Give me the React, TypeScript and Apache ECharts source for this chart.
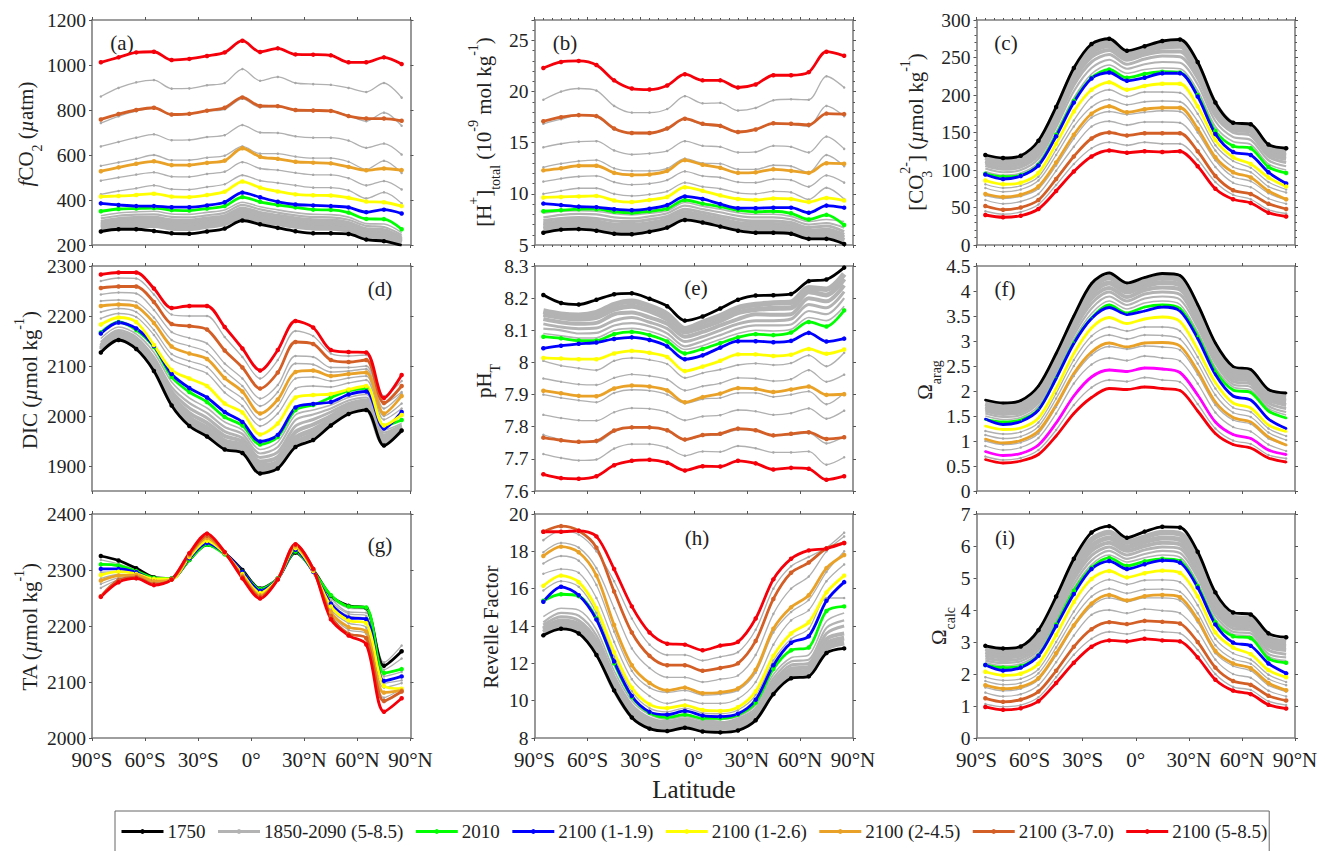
import React, { useEffect, useRef } from 'react';
import * as echarts from 'echarts';

const lats = [-85, -75, -65, -55, -45, -35, -25, -15, -5, 5, 15, 25, 35, 45, 55, 65, 75, 85];
const latTicks = [-90, -60, -30, 0, 30, 60, 90];
const latTickLabels = ['90°S', '60°S', '30°S', '0°', '30°N', '60°N', '90°N'];
const dTicks = [1900, 2000, 2100, 2200, 2300];

const grayName = '1850-2090 (5-8.5)';
const keyNames = ['1750', '2010', '2100 (1-1.9)', '2100 (1-2.6)', '2100 (2-4.5)', '2100 (3-7.0)', '2100 (5-8.5)'];
const keyColors = ['#000000', '#00ff00', '#0000ff', '#ffff00', '#e9a227', '#d35f27', '#f5000a'];
const legendNames = ['1750', grayName, '2010', '2100 (1-1.9)', '2100 (1-2.6)', '2100 (2-4.5)', '2100 (3-7.0)', '2100 (5-8.5)'];

// key lines run in keyNames order
const aKey = [
  [260, 270, 270, 262, 252, 250, 260, 273, 309, 292, 276, 261, 252, 252, 249, 224, 217, 198],
  [350, 360, 362, 364, 355, 353, 362, 373, 413, 392, 378, 367, 357, 356, 344, 316, 315, 270],
  [385, 378, 373, 373, 368, 368, 376, 390, 433, 412, 392, 380, 376, 373, 367, 346, 357, 340],
  [415, 418, 422, 428, 415, 413, 422, 437, 482, 455, 438, 425, 421, 420, 410, 393, 390, 373],
  [528, 545, 561, 572, 555, 555, 565, 575, 630, 592, 583, 570, 566, 563, 547, 532, 540, 533],
  [758, 782, 800, 810, 780, 783, 797, 810, 856, 818, 817, 800, 798, 796, 773, 762, 762, 752],
  [1012, 1034, 1056, 1059, 1022, 1027, 1040, 1056, 1108, 1058, 1074, 1047, 1046, 1043, 1012, 1012, 1034, 1004],
];
const aGray = [
  [860, 898, 923, 933, 895, 896, 910, 920, 982, 930, 947, 920, 915, 912, 898, 880, 920, 855],
  [742, 772, 795, 808, 778, 782, 795, 803, 850, 812, 815, 797, 795, 795, 775, 750, 788, 730],
  [638, 658, 677, 692, 666, 667, 680, 688, 733, 700, 698, 683, 677, 677, 664, 632, 651, 602],
  [552, 567, 583, 600, 577, 577, 588, 597, 638, 606, 606, 593, 586, 586, 570, 536, 574, 520],
  [486, 500, 513, 523, 504, 503, 516, 526, 568, 540, 533, 521, 512, 512, 497, 465, 484, 447],
  [425, 440, 452, 465, 448, 446, 458, 470, 510, 486, 476, 465, 455, 455, 443, 407, 434, 385],
];
const aBand = [
  [330, 342, 347, 350, 338, 336, 345, 356, 390, 370, 356, 344, 336, 335, 324, 295, 293, 255],
  [318, 330, 335, 336, 325, 323, 332, 343, 378, 358, 344, 332, 324, 323, 312, 285, 280, 245],
  [305, 318, 322, 323, 312, 310, 320, 330, 365, 345, 332, 320, 312, 311, 300, 272, 268, 235],
  [295, 307, 311, 312, 300, 298, 308, 318, 352, 334, 320, 308, 300, 299, 288, 260, 256, 225],
  [285, 296, 300, 300, 288, 286, 296, 306, 340, 322, 308, 296, 288, 287, 276, 250, 244, 217],
  [275, 285, 288, 288, 276, 274, 284, 296, 328, 310, 296, 284, 276, 275, 266, 240, 232, 210],
];

const bKey = [
  [6.2, 6.5, 6.55, 6.4, 6.1, 6.05, 6.3, 6.7, 7.45, 7.2, 6.8, 6.4, 6.2, 6.2, 6.1, 5.6, 5.6, 5.1],
  [8.3, 8.4, 8.5, 8.5, 8.25, 8.15, 8.3, 8.55, 9.4, 9.05, 8.75, 8.4, 8.25, 8.3, 8.1, 7.5, 7.95, 6.95],
  [9.05, 8.9, 8.75, 8.7, 8.5, 8.4, 8.55, 8.9, 9.75, 9.5, 9.0, 8.6, 8.6, 8.65, 8.65, 8.15, 8.85, 8.65],
  [9.65, 9.7, 9.75, 9.8, 9.35, 9.2, 9.4, 9.7, 10.65, 10.3, 9.85, 9.5, 9.4, 9.55, 9.5, 9.2, 9.6, 9.35],
  [12.3, 12.5, 12.75, 12.75, 12.05, 11.85, 11.9, 12.25, 13.3, 12.85, 12.55, 12.05, 12.1, 12.4, 12.25, 12.05, 13.0, 12.95],
  [17.1, 17.5, 17.7, 17.6, 16.4, 15.95, 15.95, 16.4, 17.35, 16.85, 16.65, 16.05, 16.3, 16.9, 16.85, 16.75, 17.85, 17.8],
  [22.3, 22.9, 23.0, 22.6, 21.1, 20.3, 20.2, 20.6, 21.7, 21.1, 21.1, 20.4, 20.7, 21.6, 21.6, 21.9, 23.9, 23.5],
];
const bGray = [
  [19.2, 20.0, 20.3, 20.1, 18.6, 17.95, 17.95, 18.3, 19.55, 18.85, 18.9, 18.15, 18.4, 19.15, 19.25, 19.2, 21.5, 20.4],
  [16.85, 17.3, 17.7, 17.55, 16.3, 15.95, 15.9, 16.3, 17.3, 16.75, 16.6, 16.0, 16.25, 16.85, 16.8, 16.6, 18.6, 17.6],
  [14.55, 14.9, 15.1, 15.15, 14.25, 13.85, 13.95, 14.2, 15.15, 14.7, 14.6, 14.05, 14.1, 14.7, 14.6, 14.05, 15.6, 14.4],
  [12.6, 12.95, 13.2, 13.3, 12.5, 12.25, 12.25, 12.5, 13.45, 13.0, 12.95, 12.4, 12.4, 12.8, 12.7, 12.1, 13.8, 12.7],
  [11.2, 11.5, 11.7, 11.75, 11.15, 10.9, 11.0, 11.35, 12.2, 11.75, 11.6, 11.15, 11.1, 11.45, 11.35, 10.7, 11.8, 11.1],
  [10.0, 10.3, 10.55, 10.55, 10.0, 9.8, 9.95, 10.25, 11.1, 10.7, 10.5, 10.1, 10.0, 10.25, 10.15, 9.45, 10.6, 9.5],
];
const bBand = [
  [8.1, 8.3, 8.35, 8.3, 8.05, 7.95, 8.1, 8.35, 9.15, 8.8, 8.5, 8.15, 8.0, 8.0, 7.8, 7.3, 7.5, 7.3],
  [7.7, 7.95, 8.05, 8.0, 7.7, 7.6, 7.8, 8.1, 8.85, 8.5, 8.2, 7.85, 7.7, 7.7, 7.5, 7.0, 7.15, 6.7],
  [7.4, 7.6, 7.7, 7.6, 7.35, 7.3, 7.5, 7.8, 8.5, 8.2, 7.85, 7.5, 7.35, 7.35, 7.2, 6.7, 6.85, 6.3],
  [7.1, 7.3, 7.4, 7.3, 7.0, 6.95, 7.15, 7.5, 8.2, 7.9, 7.55, 7.15, 7.05, 7.05, 6.9, 6.4, 6.5, 6.0],
  [6.85, 7.05, 7.1, 7.0, 6.75, 6.7, 6.9, 7.2, 7.95, 7.6, 7.3, 6.9, 6.75, 6.75, 6.6, 6.1, 6.2, 5.7],
  [6.55, 6.8, 6.85, 6.75, 6.45, 6.4, 6.6, 6.95, 7.7, 7.4, 7.05, 6.65, 6.5, 6.5, 6.35, 5.85, 5.9, 5.4],
];

const cKey = [
  [120, 116, 119, 139, 184, 236, 268, 275, 259, 265, 272, 274, 244, 190, 163, 161, 134, 129],
  [95, 91, 93, 107, 147, 192, 223, 234, 223, 228, 231, 230, 200, 152, 132, 129, 104, 96],
  [94, 88, 92, 106, 145, 190, 222, 230, 219, 223, 229, 229, 198, 148, 124, 120, 97, 82],
  [86, 81, 83, 96, 135, 178, 207, 217, 207, 212, 215, 215, 185, 140, 117, 108, 90, 78],
  [68, 64, 67, 78, 110, 147, 175, 185, 177, 181, 183, 183, 155, 117, 97, 90, 72, 61],
  [52, 47, 50, 60, 88, 118, 142, 150, 146, 149, 149, 149, 125, 92, 73, 68, 55, 48],
  [40, 37, 39, 48, 72, 98, 118, 126, 123, 125, 124, 125, 105, 75, 61, 56, 43, 38],
];
const cGray = [
  [45, 41, 44, 54, 80, 108, 129, 137, 133, 137, 135, 135, 114, 84, 67, 61, 47, 42],
  [60, 55, 58, 68, 99, 131, 158, 165, 160, 164, 164, 163, 138, 104, 83, 77, 62, 55],
  [66, 62, 65, 75, 106, 142, 170, 178, 174, 177, 179, 178, 150, 113, 91, 85, 69, 60],
  [76, 71, 74, 86, 120, 158, 184, 194, 187, 191, 192, 191, 165, 126, 104, 97, 78, 70],
  [81, 76, 79, 91, 127, 166, 197, 207, 198, 204, 204, 203, 175, 133, 112, 103, 84, 74],
];
const cBand = [
  [98, 93, 96, 110, 150, 196, 228, 240, 229, 234, 236, 235, 206, 158, 138, 134, 108, 100],
  [102, 97, 100, 115, 157, 205, 236, 247, 235, 241, 244, 243, 214, 165, 144, 140, 113, 105],
  [106, 101, 104, 120, 163, 213, 244, 254, 241, 248, 252, 251, 222, 172, 150, 146, 118, 110],
  [110, 105, 108, 125, 169, 220, 251, 260, 247, 254, 258, 258, 228, 178, 154, 151, 122, 115],
  [113, 108, 112, 130, 175, 226, 257, 266, 252, 259, 264, 265, 234, 183, 158, 155, 126, 119],
  [117, 112, 115, 134, 180, 231, 263, 271, 256, 262, 268, 270, 239, 187, 161, 158, 130, 124],
];

const dKey = [
  [2127, 2152, 2134, 2090, 2021, 1980, 1959, 1933, 1926, 1885, 1895, 1938, 1952, 1981, 2004, 2012, 1941, 1971],
  [2167, 2188, 2172, 2138, 2078, 2048, 2028, 1998, 1981, 1943, 1958, 2012, 2022, 2037, 2050, 2055, 1980, 1992],
  [2165, 2187, 2175, 2140, 2084, 2056, 2037, 2008, 1988, 1949, 1962, 2017, 2024, 2028, 2043, 2049, 1975, 2008],
  [2183, 2197, 2188, 2142, 2092, 2075, 2060, 2025, 2007, 1963, 1985, 2037, 2042, 2044, 2053, 2060, 1981, 2002],
  [2220, 2223, 2219, 2186, 2139, 2125, 2114, 2076, 2049, 2005, 2033, 2088, 2091, 2080, 2084, 2087, 2005, 2040],
  [2256, 2259, 2259, 2228, 2184, 2180, 2173, 2131, 2097, 2055, 2087, 2148, 2144, 2112, 2108, 2112, 2026, 2060],
  [2283, 2287, 2287, 2255, 2216, 2220, 2220, 2178, 2135, 2091, 2132, 2190, 2177, 2132, 2128, 2127, 2036, 2082],
];
const dGray = [
  [2270, 2276, 2275, 2243, 2203, 2200, 2200, 2158, 2118, 2075, 2112, 2170, 2160, 2125, 2120, 2122, 2040, 2070],
  [2243, 2247, 2245, 2212, 2168, 2156, 2145, 2105, 2075, 2035, 2062, 2120, 2118, 2097, 2097, 2100, 2025, 2048],
  [2230, 2232, 2228, 2197, 2152, 2140, 2128, 2090, 2060, 2020, 2048, 2105, 2103, 2088, 2090, 2094, 2015, 2045],
  [2208, 2215, 2208, 2172, 2124, 2110, 2098, 2060, 2035, 1993, 2020, 2075, 2078, 2070, 2076, 2080, 2000, 2025],
  [2195, 2205, 2198, 2162, 2113, 2098, 2085, 2047, 2020, 1980, 2005, 2055, 2060, 2058, 2066, 2072, 1993, 2015],
];
const dBand = [
  [2155, 2178, 2164, 2127, 2068, 2036, 2016, 1988, 1972, 1933, 1948, 2002, 2012, 2022, 2037, 2043, 1972, 1985],
  [2148, 2172, 2158, 2118, 2058, 2026, 2006, 1978, 1964, 1925, 1938, 1992, 2003, 2015, 2031, 2037, 1967, 1982],
  [2143, 2168, 2153, 2112, 2050, 2016, 1996, 1969, 1956, 1917, 1928, 1980, 1993, 2008, 2025, 2032, 1962, 1980],
  [2140, 2164, 2148, 2106, 2042, 2006, 1986, 1960, 1949, 1909, 1918, 1968, 1983, 2000, 2020, 2027, 1957, 1978],
  [2136, 2160, 2143, 2100, 2034, 1996, 1976, 1950, 1941, 1901, 1908, 1956, 1972, 1992, 2014, 2021, 1951, 1975],
  [2132, 2156, 2138, 2095, 2027, 1988, 1967, 1941, 1933, 1893, 1901, 1946, 1962, 1986, 2009, 2016, 1946, 1973],
];

const eKey = [
  [8.21, 8.185, 8.18, 8.195, 8.212, 8.215, 8.198, 8.175, 8.13, 8.143, 8.168, 8.195, 8.208, 8.209, 8.213, 8.253, 8.258, 8.295],
  [8.08, 8.075, 8.068, 8.068, 8.088, 8.095, 8.085, 8.065, 8.028, 8.042, 8.06, 8.078, 8.088, 8.085, 8.093, 8.126, 8.112, 8.162],
  [8.044, 8.052, 8.058, 8.062, 8.073, 8.078, 8.07, 8.05, 8.01, 8.022, 8.046, 8.066, 8.066, 8.063, 8.067, 8.092, 8.065, 8.074],
  [8.014, 8.012, 8.01, 8.01, 8.028, 8.036, 8.03, 8.017, 7.973, 7.987, 8.005, 8.025, 8.025, 8.02, 8.024, 8.042, 8.027, 8.04],
  [7.912, 7.904, 7.896, 7.895, 7.919, 7.928, 7.925, 7.913, 7.876, 7.892, 7.903, 7.92, 7.918, 7.908, 7.916, 7.925, 7.899, 7.901],
  [7.766, 7.758, 7.753, 7.756, 7.788, 7.798, 7.798, 7.789, 7.76, 7.774, 7.778, 7.794, 7.789, 7.773, 7.778, 7.783, 7.762, 7.767],
  [7.652, 7.64, 7.638, 7.646, 7.68, 7.694, 7.697, 7.688, 7.664, 7.677, 7.676, 7.694, 7.686, 7.667, 7.672, 7.669, 7.635, 7.646],
];
const eGray = [
  [7.715, 7.703, 7.695, 7.698, 7.732, 7.746, 7.746, 7.735, 7.71, 7.723, 7.722, 7.74, 7.733, 7.72, 7.72, 7.723, 7.682, 7.705],
  [7.775, 7.76, 7.752, 7.752, 7.785, 7.797, 7.797, 7.787, 7.758, 7.772, 7.775, 7.79, 7.788, 7.772, 7.775, 7.78, 7.748, 7.77],
  [7.837, 7.827, 7.82, 7.819, 7.845, 7.858, 7.856, 7.845, 7.82, 7.832, 7.836, 7.852, 7.848, 7.837, 7.842, 7.857, 7.825, 7.85],
  [7.9, 7.89, 7.882, 7.876, 7.905, 7.915, 7.912, 7.9, 7.873, 7.886, 7.89, 7.905, 7.905, 7.893, 7.9, 7.91, 7.87, 7.905],
  [7.95, 7.94, 7.932, 7.93, 7.952, 7.963, 7.958, 7.947, 7.913, 7.926, 7.935, 7.952, 7.95, 7.942, 7.948, 7.976, 7.94, 7.962],
  [8.005, 7.99, 7.982, 7.976, 8.005, 8.014, 8.008, 7.995, 7.952, 7.967, 7.978, 7.992, 7.997, 7.992, 7.998, 8.022, 7.988, 8.03],
];
const eBand = [
  [8.09, 8.083, 8.076, 8.077, 8.1, 8.106, 8.097, 8.077, 8.04, 8.052, 8.072, 8.09, 8.1, 8.098, 8.103, 8.14, 8.13, 8.175],
  [8.105, 8.1, 8.09, 8.092, 8.115, 8.122, 8.112, 8.09, 8.05, 8.066, 8.085, 8.105, 8.115, 8.115, 8.118, 8.16, 8.15, 8.2],
  [8.12, 8.11, 8.105, 8.107, 8.13, 8.14, 8.125, 8.105, 8.065, 8.08, 8.1, 8.12, 8.13, 8.13, 8.135, 8.18, 8.17, 8.22],
  [8.135, 8.125, 8.12, 8.123, 8.15, 8.155, 8.14, 8.12, 8.08, 8.095, 8.115, 8.135, 8.15, 8.148, 8.15, 8.2, 8.19, 8.24],
  [8.15, 8.14, 8.135, 8.14, 8.165, 8.175, 8.16, 8.135, 8.095, 8.11, 8.13, 8.155, 8.165, 8.168, 8.17, 8.22, 8.21, 8.26],
  [8.16, 8.15, 8.147, 8.155, 8.18, 8.19, 8.175, 8.15, 8.105, 8.125, 8.145, 8.17, 8.18, 8.185, 8.187, 8.232, 8.228, 8.275],
];

// panel f has magenta where the others have the 3-7.0 line
const fKey = [
  [1.82, 1.76, 1.81, 2.1, 2.75, 3.5, 4.15, 4.36, 4.16, 4.27, 4.35, 4.31, 3.73, 2.96, 2.49, 2.43, 2.03, 1.96],
  [1.43, 1.38, 1.42, 1.63, 2.26, 2.97, 3.46, 3.72, 3.56, 3.68, 3.72, 3.65, 3.1, 2.4, 2.02, 1.97, 1.6, 1.46],
  [1.44, 1.33, 1.39, 1.62, 2.25, 2.95, 3.45, 3.67, 3.53, 3.6, 3.68, 3.6, 3.05, 2.33, 1.9, 1.82, 1.44, 1.25],
  [1.3, 1.23, 1.26, 1.46, 2.05, 2.75, 3.26, 3.47, 3.35, 3.44, 3.48, 3.39, 2.83, 2.17, 1.76, 1.66, 1.32, 1.19],
  [1.04, 0.96, 1.01, 1.2, 1.72, 2.35, 2.78, 2.96, 2.88, 2.96, 2.97, 2.9, 2.4, 1.78, 1.47, 1.38, 1.08, 0.92],
  [0.79, 0.71, 0.75, 0.92, 1.36, 1.9, 2.28, 2.42, 2.39, 2.46, 2.44, 2.37, 1.92, 1.38, 1.13, 1.05, 0.82, 0.73],
  [0.63, 0.56, 0.6, 0.73, 1.1, 1.55, 1.87, 2.05, 2.03, 2.08, 2.05, 2.01, 1.6, 1.15, 0.93, 0.86, 0.66, 0.58],
];
const fGray = [
  [0.69, 0.62, 0.66, 0.82, 1.22, 1.72, 2.07, 2.22, 2.19, 2.27, 2.22, 2.18, 1.74, 1.25, 1.01, 0.94, 0.72, 0.65],
  [0.9, 0.82, 0.87, 1.06, 1.55, 2.15, 2.53, 2.66, 2.61, 2.7, 2.66, 2.6, 2.15, 1.57, 1.28, 1.19, 0.93, 0.8],
  [1.0, 0.93, 0.97, 1.15, 1.68, 2.3, 2.72, 2.89, 2.84, 2.9, 2.88, 2.82, 2.33, 1.72, 1.42, 1.34, 1.05, 0.92],
  [1.12, 1.05, 1.09, 1.29, 1.85, 2.5, 2.97, 3.12, 3.04, 3.12, 3.11, 3.04, 2.55, 1.92, 1.57, 1.48, 1.17, 1.02],
  [1.2, 1.14, 1.18, 1.37, 1.95, 2.62, 3.1, 3.28, 3.2, 3.28, 3.28, 3.2, 2.68, 2.05, 1.67, 1.58, 1.25, 1.1],
];
const fBand = [
  [1.5, 1.43, 1.47, 1.7, 2.32, 3.03, 3.55, 3.8, 3.64, 3.76, 3.8, 3.73, 3.18, 2.47, 2.08, 2.02, 1.65, 1.52],
  [1.55, 1.48, 1.52, 1.76, 2.38, 3.11, 3.65, 3.89, 3.72, 3.85, 3.89, 3.83, 3.27, 2.55, 2.13, 2.08, 1.7, 1.58],
  [1.6, 1.53, 1.57, 1.82, 2.45, 3.2, 3.75, 3.98, 3.8, 3.94, 3.98, 3.93, 3.35, 2.62, 2.19, 2.14, 1.76, 1.65],
  [1.65, 1.58, 1.63, 1.88, 2.52, 3.28, 3.85, 4.06, 3.88, 4.02, 4.07, 4.03, 3.45, 2.7, 2.26, 2.2, 1.83, 1.72],
  [1.7, 1.63, 1.68, 1.95, 2.6, 3.36, 3.95, 4.16, 3.98, 4.1, 4.17, 4.12, 3.55, 2.79, 2.33, 2.27, 1.89, 1.8],
  [1.76, 1.7, 1.75, 2.02, 2.68, 3.43, 4.05, 4.27, 4.07, 4.19, 4.27, 4.22, 3.65, 2.88, 2.41, 2.35, 1.96, 1.88],
];

const gKey = [
  [2325, 2317, 2303, 2287, 2285, 2318, 2345, 2330, 2300, 2267, 2285, 2331, 2300, 2254, 2236, 2232, 2129, 2155],
  [2310, 2308, 2298, 2286, 2285, 2318, 2345, 2328, 2297, 2266, 2285, 2333, 2298, 2255, 2235, 2233, 2116, 2123],
  [2302, 2302, 2296, 2283, 2284, 2321, 2348, 2330, 2297, 2263, 2284, 2336, 2297, 2240, 2215, 2212, 2102, 2110],
  [2291, 2297, 2293, 2284, 2284, 2323, 2352, 2330, 2293, 2259, 2284, 2339, 2298, 2235, 2210, 2205, 2093, 2088],
  [2281, 2290, 2291, 2280, 2283, 2326, 2357, 2331, 2290, 2255, 2284, 2342, 2300, 2225, 2198, 2190, 2081, 2085],
  [2253, 2282, 2287, 2275, 2283, 2328, 2361, 2332, 2287, 2252, 2284, 2345, 2302, 2218, 2186, 2178, 2066, 2083],
  [2252, 2278, 2285, 2273, 2283, 2330, 2365, 2332, 2285, 2249, 2283, 2346, 2302, 2212, 2183, 2167, 2047, 2071],
];
const gGray = [
  [2318, 2311, 2300, 2286, 2285, 2316, 2346, 2329, 2298, 2266, 2285, 2332, 2299, 2252, 2232, 2230, 2135, 2165],
  [2312, 2306, 2298, 2286, 2285, 2317, 2345, 2329, 2298, 2266, 2285, 2333, 2298, 2250, 2225, 2224, 2122, 2142],
  [2296, 2297, 2294, 2285, 2284, 2320, 2348, 2330, 2296, 2264, 2284, 2335, 2298, 2245, 2222, 2218, 2110, 2118],
  [2285, 2292, 2291, 2281, 2284, 2325, 2355, 2331, 2291, 2257, 2284, 2341, 2299, 2240, 2218, 2212, 2098, 2103],
  [2275, 2286, 2288, 2278, 2283, 2327, 2358, 2331, 2289, 2254, 2284, 2343, 2300, 2230, 2205, 2197, 2090, 2098],
  [2268, 2283, 2286, 2277, 2283, 2328, 2360, 2331, 2288, 2253, 2284, 2344, 2301, 2224, 2193, 2186, 2072, 2088],
];
const gBand: number[][] = [];

const hKey = [
  [13.5, 13.85, 13.6, 12.45, 10.55, 9.1, 8.5, 8.37, 8.55, 8.35, 8.3, 8.4, 8.95, 10.35, 11.2, 11.3, 12.55, 12.8],
  [15.35, 15.7, 15.6, 14.4, 12.0, 10.2, 9.35, 9.1, 9.25, 9.05, 9.05, 9.25, 9.9, 11.7, 12.7, 12.85, 14.8, 15.05],
  [15.3, 16.1, 15.65, 14.35, 12.1, 10.25, 9.4, 9.25, 9.45, 9.2, 9.15, 9.3, 10.05, 11.9, 13.1, 13.45, 15.35, 16.35],
  [16.15, 16.7, 16.35, 14.95, 12.6, 10.7, 9.8, 9.6, 9.75, 9.5, 9.45, 9.65, 10.5, 12.4, 13.6, 14.2, 15.8, 16.7],
  [17.75, 18.25, 17.95, 16.7, 14.05, 11.9, 10.95, 10.55, 10.7, 10.4, 10.45, 10.65, 11.65, 13.85, 15.0, 15.65, 17.1, 17.8],
  [19.05, 19.35, 19.1, 18.2, 15.85, 13.65, 12.4, 11.9, 11.9, 11.6, 11.75, 12.0, 13.2, 15.45, 16.85, 17.4, 18.15, 18.45],
  [19.05, 19.05, 19.1, 18.8, 17.05, 15.05, 13.65, 13.05, 13.0, 12.7, 12.95, 13.15, 14.4, 16.5, 17.6, 18.05, 18.15, 18.45],
];
const hGray = [
  [18.6, 19.1, 18.9, 18.0, 16.4, 14.4, 13.0, 12.45, 12.45, 12.15, 12.35, 12.6, 13.8, 16.0, 17.2, 17.7, 18.2, 19.0],
  [17.95, 18.45, 18.2, 17.1, 14.95, 12.8, 11.75, 11.25, 11.25, 11.0, 11.15, 11.35, 12.45, 14.65, 16.0, 16.65, 18.0, 18.8],
  [17.35, 17.75, 17.5, 16.2, 13.7, 11.6, 10.7, 10.45, 10.55, 10.3, 10.35, 10.55, 11.5, 13.65, 14.75, 15.4, 16.9, 18.0],
  [16.8, 17.05, 16.85, 15.5, 13.15, 11.15, 10.25, 9.85, 10.05, 9.85, 9.85, 10.1, 11.0, 13.0, 14.3, 14.85, 16.4, 17.3],
  [15.9, 16.4, 16.1, 14.7, 12.35, 10.5, 9.6, 9.4, 9.6, 9.35, 9.3, 9.5, 10.3, 12.15, 13.3, 13.85, 15.5, 15.5],
];
const hBand = [
  [14.5, 14.95, 14.85, 13.8, 11.6, 10.0, 9.25, 9.0, 9.15, 8.95, 8.98, 9.15, 9.75, 11.4, 12.3, 12.45, 14.25, 14.7],
  [14.2, 14.7, 14.55, 13.5, 11.35, 9.8, 9.1, 8.9, 9.05, 8.85, 8.85, 9.05, 9.6, 11.2, 12.1, 12.2, 13.9, 14.3],
  [14.05, 14.5, 14.3, 13.25, 11.15, 9.65, 9.0, 8.8, 8.95, 8.75, 8.75, 8.95, 9.45, 11.0, 11.9, 12.0, 13.6, 14.0],
  [13.9, 14.3, 14.1, 13.05, 10.95, 9.5, 8.85, 8.7, 8.85, 8.65, 8.65, 8.8, 9.3, 10.8, 11.7, 11.8, 13.3, 13.6],
  [13.8, 14.15, 13.95, 12.85, 10.8, 9.35, 8.75, 8.6, 8.75, 8.55, 8.55, 8.65, 9.2, 10.65, 11.5, 11.6, 13.05, 13.35],
  [13.65, 14.0, 13.75, 12.65, 10.65, 9.2, 8.6, 8.47, 8.65, 8.45, 8.42, 8.5, 9.05, 10.5, 11.35, 11.45, 12.8, 13.1],
];

const iKey = [
  [2.88, 2.8, 2.86, 3.37, 4.42, 5.6, 6.42, 6.62, 6.26, 6.45, 6.6, 6.58, 5.82, 4.55, 3.92, 3.86, 3.27, 3.15],
  [2.28, 2.2, 2.24, 2.58, 3.55, 4.6, 5.32, 5.63, 5.38, 5.52, 5.6, 5.53, 4.75, 3.62, 3.18, 3.12, 2.48, 2.35],
  [2.28, 2.11, 2.2, 2.57, 3.5, 4.5, 5.28, 5.53, 5.28, 5.43, 5.55, 5.48, 4.7, 3.55, 2.98, 2.88, 2.33, 2.02],
  [2.07, 1.96, 2.01, 2.32, 3.22, 4.25, 4.97, 5.22, 5.02, 5.15, 5.23, 5.16, 4.43, 3.3, 2.83, 2.62, 2.12, 1.9],
  [1.65, 1.54, 1.6, 1.87, 2.65, 3.52, 4.2, 4.47, 4.3, 4.43, 4.47, 4.4, 3.7, 2.72, 2.33, 2.18, 1.72, 1.49],
  [1.24, 1.13, 1.2, 1.45, 2.1, 2.85, 3.4, 3.62, 3.56, 3.66, 3.63, 3.58, 3.0, 2.2, 1.78, 1.66, 1.32, 1.17],
  [0.97, 0.88, 0.93, 1.15, 1.72, 2.35, 2.85, 3.05, 3.02, 3.1, 3.05, 3.02, 2.52, 1.82, 1.48, 1.37, 1.04, 0.92],
];
const iGray = [
  [1.06, 0.98, 1.03, 1.27, 1.9, 2.6, 3.1, 3.32, 3.25, 3.37, 3.32, 3.27, 2.75, 2.0, 1.6, 1.5, 1.15, 1.03],
  [1.42, 1.3, 1.37, 1.65, 2.37, 3.2, 3.85, 4.0, 3.9, 4.03, 3.98, 3.9, 3.33, 2.45, 2.0, 1.88, 1.48, 1.3],
  [1.58, 1.47, 1.54, 1.82, 2.58, 3.47, 4.12, 4.38, 4.26, 4.38, 4.38, 4.3, 3.62, 2.65, 2.25, 2.1, 1.65, 1.45],
  [1.78, 1.67, 1.72, 2.02, 2.83, 3.75, 4.42, 4.67, 4.52, 4.64, 4.65, 4.57, 3.9, 2.9, 2.47, 2.32, 1.85, 1.65],
  [1.9, 1.8, 1.85, 2.15, 3.0, 3.95, 4.68, 4.95, 4.8, 4.93, 4.94, 4.87, 4.15, 3.1, 2.65, 2.45, 1.98, 1.75],
];
const iBand = [
  [2.35, 2.26, 2.32, 2.66, 3.62, 4.68, 5.42, 5.72, 5.5, 5.63, 5.72, 5.65, 4.85, 3.7, 3.24, 3.18, 2.55, 2.42],
  [2.42, 2.34, 2.4, 2.75, 3.72, 4.8, 5.55, 5.85, 5.6, 5.75, 5.85, 5.78, 5.0, 3.82, 3.32, 3.27, 2.63, 2.52],
  [2.5, 2.42, 2.48, 2.85, 3.85, 4.95, 5.7, 5.97, 5.72, 5.88, 5.97, 5.92, 5.12, 3.95, 3.42, 3.37, 2.75, 2.62],
  [2.6, 2.52, 2.58, 2.97, 3.97, 5.1, 5.85, 6.1, 5.85, 6.0, 6.1, 6.05, 5.27, 4.08, 3.52, 3.47, 2.87, 2.75],
  [2.7, 2.62, 2.68, 3.08, 4.1, 5.25, 6.0, 6.25, 5.97, 6.13, 6.25, 6.2, 5.42, 4.2, 3.63, 3.57, 2.98, 2.87],
  [2.8, 2.72, 2.78, 3.2, 4.25, 5.42, 6.2, 6.42, 6.12, 6.28, 6.42, 6.38, 5.62, 4.37, 3.77, 3.72, 3.12, 3.0],
];

const FONT = '"Liberation Serif", "Times New Roman", serif';
const INK = '#222222';
const BOX = '#7f7f7f';
const colX = [92, 534.5, 976.5];
const rowY = [20, 266, 514];
const GW = 318.5;
const GH = 225;
// band lines go from the thin stripes near 2010 to the solid part near 1750
const bandWidths = [1.6, 2.2, 3, 4, 5, 5.5];

const panels: any[] = [
  { letter: '(a)', key: aKey, gray: aGray, band: aBand, min: 200, max: 1200, step: 200, lx: 122, ly: 43, tx: 26, ty: 134, title: '{i|f}{m|CO}{sub|2}{m| (}{i|µ}{m|atm)}' },
  { letter: '(b)', key: bKey, gray: bGray, band: bBand, min: 5, max: 27, step: 5, minor: true, hideTop: true, lx: 565, ly: 43, tx: 484, ty: 132, title: '{m|[H}{sup|+}{m|]}{sub|total}{m| (10}{sup|-9}{m| mol kg}{sup|-1}{m|)}' },
  { letter: '(c)', key: cKey, gray: cGray, band: cBand, min: 0, max: 300, step: 50, minor: true, lx: 1006, ly: 43, tx: 916, ty: 132, title: '{m|[CO}{sub3|3}{sup2|2}{sup|-}{m|] (}{i|µ}{m|mol kg}{sup|-1}{m|)}' },
  { letter: '(d)', key: dKey, gray: dGray, band: dBand, min: 1850, max: 2300, ticks: dTicks, lx: 380, ly: 289, tx: 30, ty: 380, title: '{m|DIC (}{i|µ}{m|mol kg}{sup|-1}{m|)}' },
  { letter: '(e)', key: eKey, gray: eGray, band: eBand, min: 7.6, max: 8.3, step: 0.1, lx: 696, ly: 288, tx: 484, ty: 381, title: '{m|pH}{sub|T}' },
  { letter: '(f)', key: fKey, gray: fGray, band: fBand, min: 0, max: 4.5, step: 0.5, lx: 1005, ly: 289, tx: 925, ty: 380, title: '{m|Ω}{sub|arag}', magenta: true },
  { letter: '(g)', key: gKey, gray: gGray, band: gBand, min: 2000, max: 2400, step: 100, lx: 380, ly: 545, tx: 30, ty: 627, title: '{m|TA (}{i|µ}{m|mol kg}{sup|-1}{m|)}' },
  { letter: '(h)', key: hKey, gray: hGray, band: hBand, min: 8, max: 20, step: 2, lx: 697, ly: 538, tx: 491, ty: 627, title: '{m|Revelle Factor}' },
  { letter: '(i)', key: iKey, gray: iGray, band: iBand, min: 0, max: 7, step: 1, lx: 1005, ly: 538, tx: 939, ty: 626, title: '{m|Ω}{sub|calc}' },
];

const titleRich = {
  m: { fontSize: 21, lineHeight: 36, fontFamily: FONT, color: INK },
  i: { fontSize: 21, lineHeight: 36, fontFamily: FONT, fontStyle: 'italic', color: INK },
  sup: { fontSize: 14, lineHeight: 24, fontFamily: FONT, color: INK, verticalAlign: 'top' },
  sub: { fontSize: 14, lineHeight: 24, fontFamily: FONT, color: INK, verticalAlign: 'bottom' },
  sub3: { fontSize: 14, lineHeight: 24, width: 1, fontFamily: FONT, color: INK, verticalAlign: 'bottom' },
  sup2: { fontSize: 14, lineHeight: 30, fontFamily: FONT, color: INK, verticalAlign: 'top' },
};

const buildOption = () => {
  const grid: any[] = [];
  const xAxis: any[] = [];
  const yAxis: any[] = [];
  const series: any[] = [];
  const graphic: any[] = [];
  const tickStyle = { show: true, length: 3, lineStyle: { color: '#555555', width: 1 } };
  const lineStyle = { show: true, onZero: false, lineStyle: { color: BOX, width: 1.6 } };

  panels.forEach((p, i) => {
    const col = i % 3;
    const row = Math.floor(i / 3);
    grid.push({ left: colX[col], top: rowY[row], width: GW, height: row === 2 ? GH - 1 : GH });

    const minorTick = { show: !!p.minor, length: 2, splitNumber: 6, lineStyle: { color: '#555555', width: 1 } };
    const axisX = {
      type: 'value', gridIndex: i, min: -90, max: 90, interval: 30,
      axisLine: lineStyle, axisTick: tickStyle, minorTick, splitLine: { show: false },
    };
    xAxis.push({
      ...axisX, position: 'bottom',
      axisLabel: {
        show: row === 2, margin: 11, fontSize: 21, fontFamily: FONT, color: INK,
        formatter: (v: number) => latTickLabels[latTicks.indexOf(v)] ?? '',
      },
    });
    xAxis.push({ ...axisX, position: 'top', axisLabel: { show: false } });

    const axisY: any = {
      type: 'value', gridIndex: i, min: p.min, max: p.max,
      axisLine: lineStyle, splitLine: { show: false },
      minorTick: { ...minorTick, splitNumber: 5 },
    };
    if (p.ticks) axisY.axisTick = { ...tickStyle, customValues: p.ticks };
    else {
      axisY.axisTick = tickStyle;
      axisY.interval = p.step;
    }
    const yLabel: any = {
      margin: 6, fontSize: 19.5, fontFamily: FONT, color: INK,
      formatter: (v: number) => String(v),
    };
    if (p.ticks) yLabel.customValues = p.ticks;
    if (p.hideTop) yLabel.showMaxLabel = false;
    yAxis.push({ ...axisY, position: 'left', axisLabel: yLabel });
    yAxis.push({ ...axisY, position: 'right', axisLabel: { show: false } });

    const base = { type: 'line', xAxisIndex: i * 2, yAxisIndex: i * 2, smooth: 0.3, symbol: 'circle', animation: false };
    p.band.forEach((vals: number[], k0: number) => {
      series.push({
        ...base, name: grayName, showSymbol: false,
        data: lats.map((x, k) => [x, vals[k]]),
        itemStyle: { color: '#b3b3b3' },
        lineStyle: { color: '#b3b3b3', width: bandWidths[k0] },
      });
    });
    p.gray.forEach((vals: number[]) => {
      series.push({
        ...base, name: grayName, symbolSize: 2.5,
        data: lats.map((x, k) => [x, vals[k]]),
        itemStyle: { color: '#a8a8a8' },
        lineStyle: { color: '#b0b0b0', width: 1.3 },
      });
    });
    p.key.forEach((vals: number[], k0: number) => {
      const color = p.magenta && k0 === 5 ? '#ff00ff' : keyColors[k0];
      series.push({
        ...base, name: keyNames[k0], symbolSize: p.magenta ? 2.5 : 4.5,
        data: lats.map((x, k) => [x, vals[k]]),
        itemStyle: { color },
        lineStyle: { color, width: 2.8 },
      });
    });

    graphic.push({
      type: 'text', x: p.lx, y: p.ly,
      style: { text: p.letter, fontSize: 21, fontFamily: FONT, fill: INK, align: 'center', verticalAlign: 'middle' },
    });
    graphic.push({
      type: 'text', x: p.tx, y: p.ty, rotation: Math.PI / 2,
      style: { text: p.title, rich: titleRich, align: 'center', verticalAlign: 'middle', fill: INK },
    });
  });

  graphic.push({
    type: 'text', x: 694, y: 789,
    style: { text: 'Latitude', fontSize: 25, fontFamily: FONT, fill: INK, align: 'center', verticalAlign: 'middle' },
  });

  return {
    animation: false,
    backgroundColor: '#ffffff',
    textStyle: { fontFamily: FONT, color: INK },
    grid, xAxis, yAxis, series, graphic,
    legend: {
      data: legendNames,
      left: 115,
      top: 811,
      orient: 'horizontal',
      itemWidth: 42,
      itemHeight: 6,
      itemGap: 11,
      padding: [11, 2, 30, 5],
      borderColor: '#666666',
      borderWidth: 1,
      selectedMode: false,
      lineStyle: { width: 3 },
      textStyle: { fontSize: 19, fontFamily: FONT, color: INK, padding: [0, 0, 0, -1] },
    },
  };
};

const App: React.FC = () => {
  const chartRef = useRef<HTMLDivElement>(null);

  useEffect(() => {
    if (!chartRef.current) return;
    const chart = echarts.init(chartRef.current, undefined, { renderer: 'svg' });
    chart.setOption(buildOption());
    return () => chart.dispose();
  }, []);

  return <div ref={chartRef} style={{ position: 'absolute', left: 0, top: 0, width: 1325, height: 851 }} />;
};

export default App;
